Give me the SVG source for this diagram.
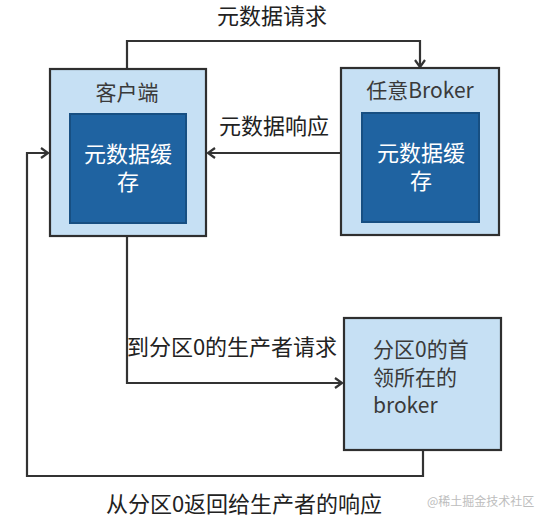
<svg xmlns="http://www.w3.org/2000/svg" width="543" height="522" viewBox="0 0 543 522">
<defs>
<marker id="arr" markerWidth="12" markerHeight="12" refX="10" refY="6" orient="auto" markerUnits="userSpaceOnUse">
<path d="M3,1 L10,6 L3,11" fill="none" stroke="#333" stroke-width="2.2"/>
</marker>
<style>
.outer{fill:#c6e0f4;stroke:#2f2f2f;stroke-width:2.2}
.inner{fill:#1f63a1;stroke:#174f82;stroke-width:2}
.conn{fill:none;stroke:#333;stroke-width:2.2}
text{font-family:"Noto Sans CJK SC","Noto Sans",sans-serif}
.lbl{font-size:22px;fill:#222;text-anchor:middle}
.title{font-size:21px;fill:#3a3a3a;text-anchor:middle}
.cache{font-size:22px;fill:#ffffff;text-anchor:middle}
.ptxt{font-size:21px;fill:#3a3a3a}
.wm{font-size:12px;fill:#bdbdbd}
</style>
</defs>
<rect width="543" height="522" fill="#ffffff"/>
<g id="connectors">
<path class="conn" d="M127,69 V41 H420 V67" marker-end="url(#arr)"/>
<path class="conn" d="M341,153 H208" marker-end="url(#arr)"/>
<path class="conn" d="M127,236 V383 H342" marker-end="url(#arr)"/>
<path class="conn" d="M423,450 V476 H27 V153 H48" marker-end="url(#arr)"/>
<text class="lbl" x="272" y="24">元数据请求</text>
<text class="lbl" x="274" y="134">元数据响应</text>
<text class="lbl" x="232" y="355">到分区0的生产者请求</text>
<text class="lbl" x="244" y="512">从分区0返回给生产者的响应</text>
</g>
<g id="client">
<rect class="outer" x="50" y="69" width="156" height="167"/>
<text class="title" x="127" y="100">客户端</text>
<rect class="inner" x="70" y="114" width="116" height="109"/>
<text class="cache" x="128" y="162">元数据缓</text>
<text class="cache" x="128" y="190">存</text>
</g>
<g id="broker">
<rect class="outer" x="341" y="68" width="158" height="167"/>
<text class="title" x="420" y="98">任意Broker</text>
<rect class="inner" x="362" y="113" width="117" height="109"/>
<text class="cache" x="421" y="161">元数据缓</text>
<text class="cache" x="421" y="189">存</text>
</g>
<g id="partition-leader">
<rect class="outer" x="344" y="318" width="157" height="132"/>
<text class="ptxt" x="373" y="357">分区0的首</text>
<text class="ptxt" x="373" y="385">领所在的</text>
<text class="ptxt" x="373" y="413">broker</text>
</g>
<text class="wm" x="427" y="506">@稀土掘金技术社区</text>
</svg>
